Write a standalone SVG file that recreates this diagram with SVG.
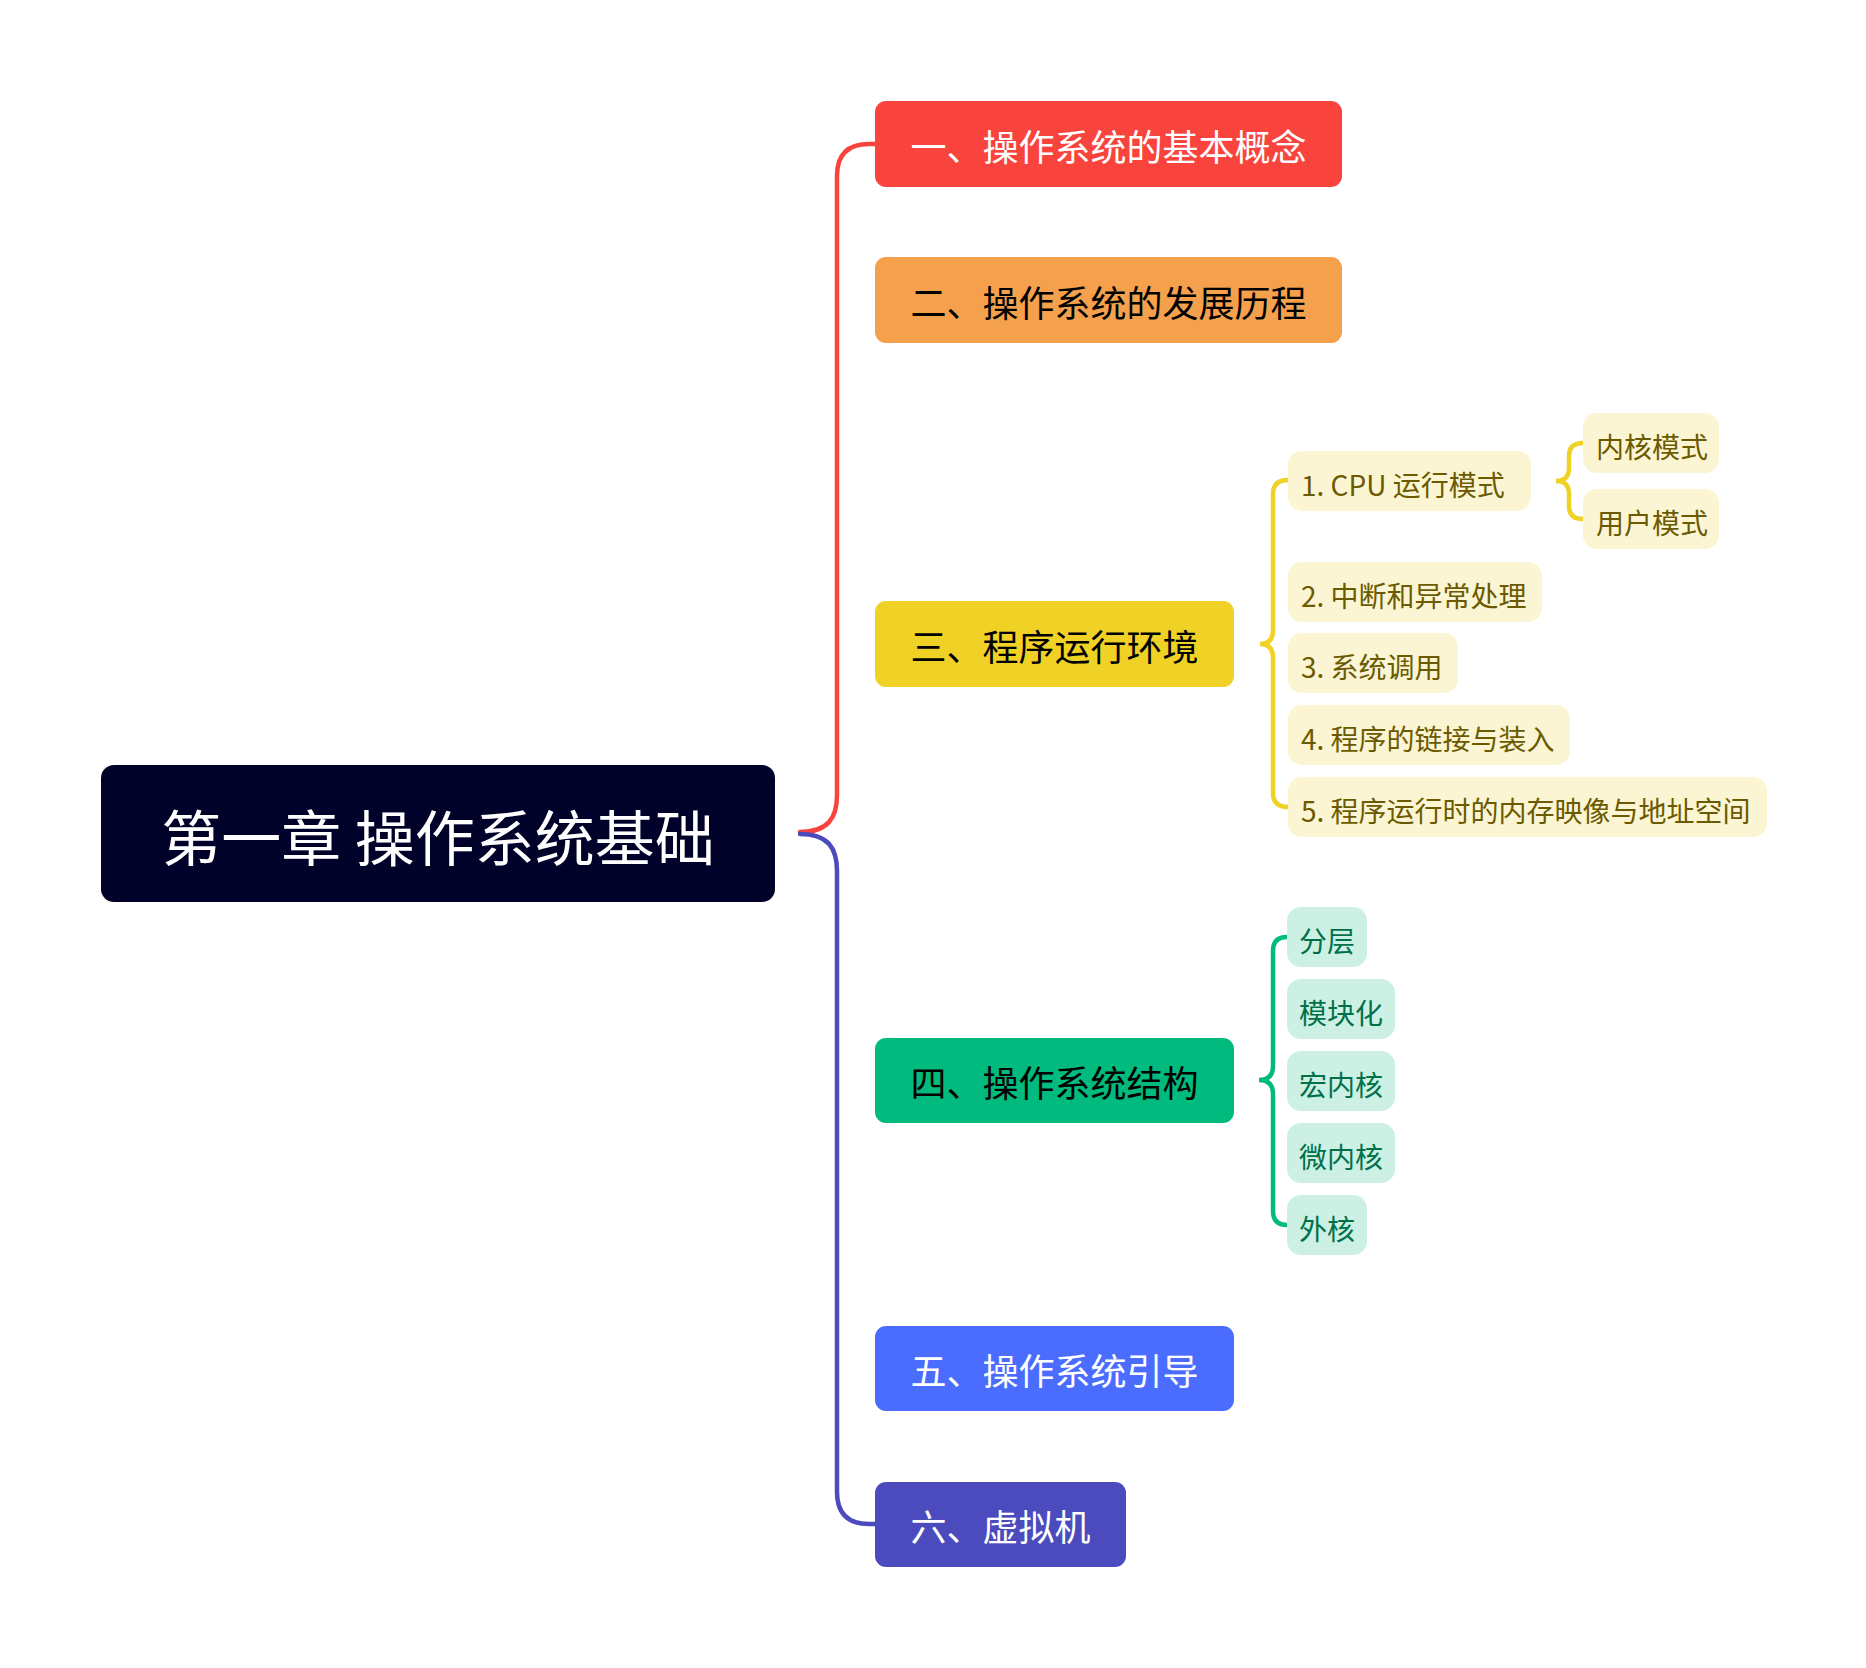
<svg xmlns="http://www.w3.org/2000/svg" width="1866" height="1668" viewBox="0 0 1866 1668">
<style>
text{font-family:"Noto Sans CJK SC","Noto Sans",sans-serif}
.root{font-size:60px;fill:#ffffff}
.br{font-size:36px}
.w{fill:#ffffff}
.k{fill:#000000}
.ys{fill:#FCF5D3}
.yt{font-size:28px;fill:#6B5A00}
.gs{fill:#CCF1E4}
.gt{font-size:28px;fill:#00704A}
.con{fill:none;stroke-width:4.5;stroke-linecap:round}
</style>
<rect width="1866" height="1668" fill="#ffffff"/>
<g id="connectors">
<path class="con" stroke="#F9443E" d="M 800 832 C 828 832 837 818 837 795 L 837 176 Q 837 144 869 144 L 876 144"/>
<path class="con" stroke="#4C4BBE" d="M 800 834 C 828 834 837 848 837 871 L 837 1492 Q 837 1524 869 1524 L 876 1524"/>
<path class="con" stroke="#F0D125" stroke-width="4" d="M 1288 480 Q 1273 480 1273 494 L 1273 630 Q 1273 644 1260 644 Q 1273 644 1273 658 L 1273 793 Q 1273 807 1288 807"/>
<path class="con" stroke="#F0D125" stroke-width="4" d="M 1583 443 Q 1569 443 1569 456 L 1569 468 Q 1569 481 1556 481 Q 1569 481 1569 494 L 1569 506 Q 1569 519 1583 519"/>
<path class="con" stroke="#00BB7D" stroke-width="4" d="M 1287 937 Q 1273 937 1273 951 L 1273 1066 Q 1273 1080 1259 1080 Q 1273 1080 1273 1094 L 1273 1211 Q 1273 1225 1287 1225"/>
</g>
<g id="root">
<rect x="101" y="765" width="674" height="137" rx="13" fill="#000229"/>
<text class="root" x="438" y="861" text-anchor="middle">第一章 操作系统基础</text>
</g>
<g id="b1">
<rect x="875" y="101" width="467" height="86" rx="11" fill="#F9443E"/>
<text class="br w" x="1108.5" y="161" text-anchor="middle">一、操作系统的基本概念</text>
</g>
<g id="b2">
<rect x="875" y="257" width="467" height="86" rx="11" fill="#F5A04D"/>
<text class="br k" x="1108.5" y="317" text-anchor="middle">二、操作系统的发展历程</text>
</g>
<g id="b3">
<rect x="875" y="601" width="359" height="86" rx="11" fill="#F0D125"/>
<text class="br k" x="1054.5" y="661" text-anchor="middle">三、程序运行环境</text>
</g>
<g id="b4">
<rect x="875" y="1038" width="359" height="85" rx="11" fill="#00BB7D"/>
<text class="br k" x="1054.5" y="1097" text-anchor="middle">四、操作系统结构</text>
</g>
<g id="b5">
<rect x="875" y="1326" width="359" height="85" rx="11" fill="#4A6DFF"/>
<text class="br w" x="1054.5" y="1385" text-anchor="middle">五、操作系统引导</text>
</g>
<g id="b6">
<rect x="875" y="1482" width="251" height="85" rx="11" fill="#4C4BBE"/>
<text class="br w" x="1000.5" y="1541" text-anchor="middle">六、虚拟机</text>
</g>
<g id="y1">
<rect class="ys" x="1288" y="451" width="243" height="60" rx="14"/>
<text class="yt" x="1301" y="496">1. CPU 运行模式</text>
</g>
<g id="y1a">
<rect class="ys" x="1583" y="413" width="136" height="60" rx="14"/>
<text class="yt" x="1596" y="458">内核模式</text>
</g>
<g id="y1b">
<rect class="ys" x="1583" y="489" width="136" height="60" rx="14"/>
<text class="yt" x="1596" y="534">用户模式</text>
</g>
<g id="y2">
<rect class="ys" x="1288" y="562" width="254" height="60" rx="14"/>
<text class="yt" x="1301" y="607">2. 中断和异常处理</text>
</g>
<g id="y3">
<rect class="ys" x="1288" y="633" width="170" height="60" rx="14"/>
<text class="yt" x="1301" y="678">3. 系统调用</text>
</g>
<g id="y4">
<rect class="ys" x="1288" y="705" width="282" height="60" rx="14"/>
<text class="yt" x="1301" y="750">4. 程序的链接与装入</text>
</g>
<g id="y5">
<rect class="ys" x="1288" y="777" width="479" height="60" rx="14"/>
<text class="yt" x="1301" y="822">5. 程序运行时的内存映像与地址空间</text>
</g>
<g id="g1">
<rect class="gs" x="1287" y="907" width="80" height="60" rx="14"/>
<text class="gt" x="1299" y="952">分层</text>
</g>
<g id="g2">
<rect class="gs" x="1287" y="979" width="108" height="60" rx="14"/>
<text class="gt" x="1299" y="1024">模块化</text>
</g>
<g id="g3">
<rect class="gs" x="1287" y="1051" width="108" height="60" rx="14"/>
<text class="gt" x="1299" y="1096">宏内核</text>
</g>
<g id="g4">
<rect class="gs" x="1287" y="1123" width="108" height="60" rx="14"/>
<text class="gt" x="1299" y="1168">微内核</text>
</g>
<g id="g5">
<rect class="gs" x="1287" y="1195" width="80" height="60" rx="14"/>
<text class="gt" x="1299" y="1240">外核</text>
</g>
</svg>
